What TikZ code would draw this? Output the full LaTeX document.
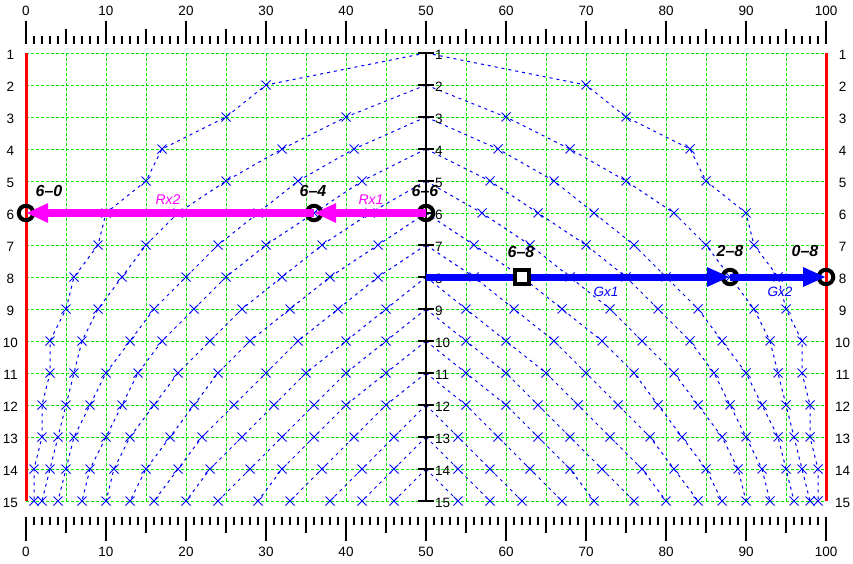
\documentclass[tikz,border=0pt]{standalone}
\usepackage{fontspec}
\setmainfont{Liberation Sans}
\usetikzlibrary{arrows.meta}
\definecolor{gridgreen}{RGB}{0,230,0}
\definecolor{pblue}{RGB}{0,0,255}
\definecolor{pmag}{RGB}{255,0,255}
\definecolor{pred}{RGB}{255,0,0}
\begin{document}
\begin{tikzpicture}[x=1pt,y=-1pt,
  gridline/.style={gridgreen, line width=1pt, dash pattern=on 3pt off 2pt},
  edgeline/.style={pred, line width=3pt},
  curve/.style={pblue, line width=1pt, dash pattern=on 3pt off 4pt},
  xmark/.style={pblue, line width=1pt},
  tickline/.style={black, line width=1.2pt},
  axisline/.style={black, line width=1.3pt},
  num/.style={font=\fontsize{13.5}{14}\selectfont, inner sep=0pt},
  ptlabel/.style={font=\fontsize{16}{16}\selectfont\bfseries\itshape, inner sep=0pt},
  maglabel/.style={pmag, font=\fontsize{14}{14}\selectfont\itshape, inner sep=0pt},
  bluelabel/.style={pblue, font=\fontsize{13.5}{14}\selectfont\itshape, inner sep=0pt},
  ring/.style={draw=black, line width=4pt, circle, minimum size=14.5pt, inner sep=0pt},
  boxmark/.style={draw=black, fill=white, line width=4pt, rectangle, minimum size=14pt, inner sep=0pt},
  marrow/.style={pmag, line width=8pt, -{Triangle[length=22pt,width=18pt]}},
  barrow/.style={pblue, line width=7pt, -{Triangle[length=23pt,width=18pt]}}
]
\fill[white] (0,0) rectangle (853,563);

% rulers
\draw[tickline] \foreach \k in {0,...,100} {({26+8*\k},36) -- ({26+8*\k},44) ({26+8*\k},517) -- ({26+8*\k},525)};
\draw[tickline] \foreach \k in {5,15,...,95} {({26+8*\k},29) -- ({26+8*\k},44) ({26+8*\k},517) -- ({26+8*\k},533)};
\draw[tickline] \foreach \k in {0,10,...,100} {({26+8*\k},21) -- ({26+8*\k},44) ({26+8*\k},517) -- ({26+8*\k},541)};
\foreach \k in {0,10,...,100} {
  \node[num] at ({26+8*\k},11) {\k};
  \node[num] at ({26+8*\k},552) {\k};
}

% green grid
\foreach \g in {5,10,...,95} \draw[gridline] ({26+8*\g},53) -- ({26+8*\g},501);
\foreach \r in {1,...,15} \draw[gridline] (26,{21+32*\r}) -- (826,{21+32*\r});

% red border lines
\draw[edgeline] (26,53) -- (26,501);
\draw[edgeline] (826,53) -- (826,501);

% curves
\foreach \b/\xs in {
  1/{30,25,17,15,10,9,6,5,3,3,2,2,1,1},
  2/{40,32,25,19,15,12,9,7,6,5,4,3,2},
  3/{41,34,29,24,20,16,13,10,8,6,5,4},
  4/{42,36,30,25,21,17,14,12,10,8,7},
  5/{43,37,32,27,23,19,16,13,11,10},
  6/{44,38,33,28,24,21,18,15,13},
  7/{44,39,34,30,26,22,19,16},
  8/{45,40,35,31,27,23,20},
  9/{45,40,36,32,28,24},
  10/{45,40,36,32,29},
  11/{45,41,37,33},
  12/{46,42,38},
  13/{46,42},
  14/{46}} {
  \draw[curve] (426,{21+32*\b}) \foreach \v [count=\i] in \xs {-- ({26+8*\v},{21+32*(\b+\i)})};
  \draw[curve] (426,{21+32*\b}) \foreach \v [count=\i] in \xs {-- ({826-8*\v},{21+32*(\b+\i)})};
  \foreach \v [count=\i] in \xs {
    \draw[xmark] ({26+8*\v},{21+32*(\b+\i)}) +(-4.5,-4.5) -- +(4.5,4.5) +(-4.5,4.5) -- +(4.5,-4.5);
    \draw[xmark] ({826-8*\v},{21+32*(\b+\i)}) +(-4.5,-4.5) -- +(4.5,4.5) +(-4.5,4.5) -- +(4.5,-4.5);
  }
}

% central axis
\draw[axisline] (426,53) -- (426,501);
\foreach \r in {1,...,15} {
  \draw[axisline] (418,{21+32*\r}) -- (434,{21+32*\r});
  \node[num, anchor=west] at (435,{23+32*\r}) {\r};
  \node[num] at (10.5,{23+32*\r}) {\r};
  \node[num] at (842.5,{23+32*\r}) {\r};
}

% marked points
\node[ring] (n60) at (26,213) {};
\node[ring] (n64) at (314,213) {};
\node[ring] (n66) at (426,213) {};
\node[ring] (n28) at (730,277) {};
\node[ring] (n08) at (826,277) {};
\coordinate (g0) at (426,277);

% arrows
\draw[marrow] (n66.center) -- (n64.center);
\draw[marrow] (n64.center) -- (n60.center);
\draw[barrow] (g0) -- (n28.center);
\draw[barrow] (n28.center) -- (n08.center);
\node[boxmark] (n68) at (522,277) {};

% labels
\node[ptlabel] (l60) at (49,191) {6\textendash 0};
\node[ptlabel] (l64) at (313,191) {6\textendash 4};
\node[ptlabel] (l66) at (425,191) {6\textendash 6};
\node[ptlabel] (l68) at (521,252) {6\textendash 8};
\node[ptlabel] (l28) at (730,251) {2\textendash 8};
\node[ptlabel] (l08) at (805,251) {0\textendash 8};
\node[maglabel] (rx2) at (168,200) {Rx2};
\node[maglabel] (rx1) at (371,200) {Rx1};
\node[bluelabel] (gx1) at (606,292) {Gx1};
\node[bluelabel] (gx2) at (780,292) {Gx2};

\useasboundingbox (0,0) rectangle (853,563);
\end{tikzpicture}
\end{document}
